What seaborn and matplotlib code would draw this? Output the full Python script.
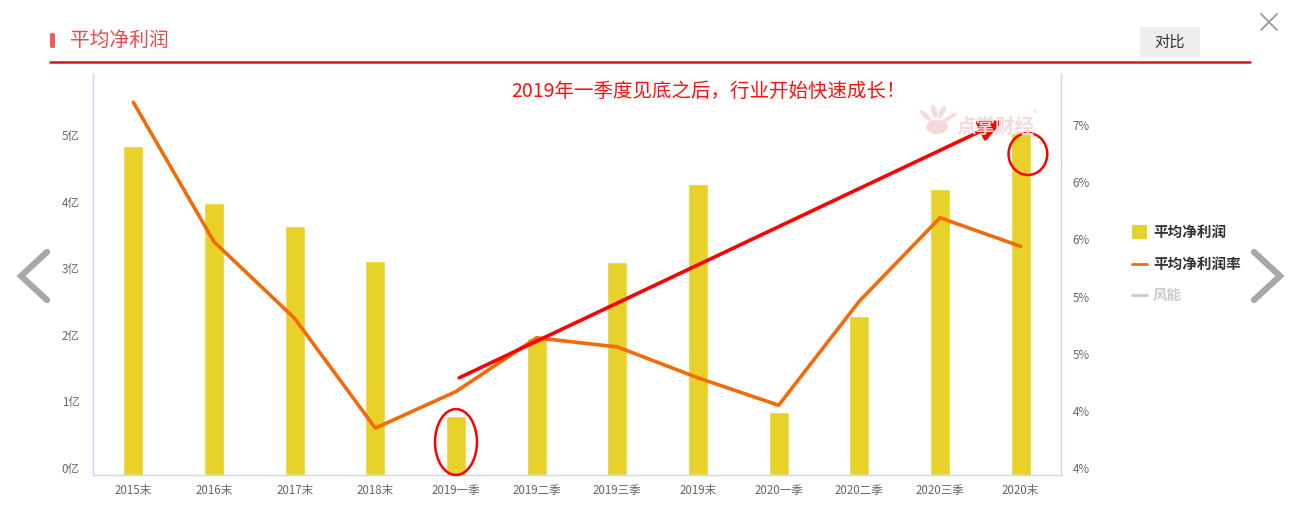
import numpy as np
import pandas as pd
import matplotlib
matplotlib.use("Agg")
import matplotlib.pyplot as plt
import matplotlib.transforms as mtransforms
from matplotlib.patches import Ellipse, FancyBboxPatch, Rectangle, FancyArrowPatch
from matplotlib.lines import Line2D
import seaborn as sns

# ---------------- data ----------------
categories = ["2015末", "2016末", "2017末", "2018末", "2019一季", "2019二季",
              "2019三季", "2019末", "2020一季", "2020二季", "2020三季", "2020末"]
profit_yi = [4.94, 4.08, 3.74, 3.21, 0.89, 2.05, 3.20, 4.37, 0.95, 2.39, 4.29, 5.14]
profit_rate = [7.26, 6.04, 5.37, 4.41, 4.73, 5.20, 5.12, 4.85, 4.61, 5.52, 6.25, 6.00]
left_ticks = [0, 1, 2, 3, 4, 5]
left_labels = ["0亿", "1亿", "2亿", "3亿", "4亿", "5亿"]
right_ticks = [4.0, 4.5, 5.0, 5.5, 6.0, 6.5, 7.0]
right_labels = ["4%", "4%", "5%", "5%", "6%", "6%", "7%"]
title = "平均净利润"
annotation = "2019年一季度见底之后，行业开始快速成长！"
legend_items = ["平均净利润", "平均净利润率", "风能"]

df = pd.DataFrame({"cat": categories, "profit": profit_yi,
                   "rate": profit_rate, "pos": np.arange(len(categories))})

# ---------------- style ----------------
sns.set_style("white")
plt.rcParams["font.family"] = ["Noto Sans CJK SC", "DejaVu Sans"]

W, H = 1302, 511
DPI = 100
fig = plt.figure(figsize=(W / DPI, H / DPI), dpi=DPI)
fig.patch.set_facecolor("white")


def fx(x):
    return x / W


def fy(y):
    return 1 - y / H


BAR = "#e8d22a"
LINE = "#f26b0a"
AXC = "#ccd6eb"
TXT = "#666666"
WM = "#f6dada"

# axes region in pixels
L, R, T, B = 93, 1061, 74, 475
ax = fig.add_axes([fx(L), fy(B), fx(R) - fx(L), (B - T) / H])

sns.barplot(data=df, x="cat", y="profit", color=BAR, saturation=1,
            width=0.25, ax=ax, zorder=2)
ax.set_xlim(-0.5, len(categories) - 0.5)
ax.set_ylim(0, (B - T) / 66.6)
ax.set_yticks(left_ticks)
ax.set_yticklabels(left_labels)
ax.set_xlabel("")
ax.set_ylabel("")

ax2 = ax.twinx()
sns.lineplot(data=df, x="pos", y="rate", color=LINE, linewidth=2.6,
             sort=False, ax=ax2, zorder=3)
ax2.set_ylim(4.0, 4.0 + (B - T) / 114.33)
ax2.set_yticks(right_ticks)
ax2.set_yticklabels(right_labels)
ax2.set_xlabel("")
ax2.set_ylabel("")
ax2.set_xlim(-0.5, len(categories) - 0.5)

for a in (ax, ax2):
    for s in a.spines.values():
        s.set_visible(False)
    a.tick_params(length=0, colors=TXT, labelsize=8.3)
    a.grid(False)

ax.spines["left"].set_visible(True)
ax.spines["bottom"].set_visible(True)
ax2.spines["right"].set_visible(True)
for s in (ax.spines["left"], ax.spines["bottom"], ax2.spines["right"]):
    s.set_color(AXC)
    s.set_linewidth(1.0)

ax.tick_params(axis="y", pad=9.5)
ax.tick_params(axis="x", pad=6.5)
ax2.tick_params(axis="y", pad=8.5)

# shift y labels up a bit (as in reference)
off = mtransforms.ScaledTranslation(0, 7 / DPI, fig.dpi_scale_trans)
for lab in ax.get_yticklabels() + ax2.get_yticklabels():
    lab.set_transform(lab.get_transform() + off)

# ---------------- watermark (drawn below the arrow) ----------------
for (cx, cy, w, h, ang) in [(926, 116, 6, 12, 20), (934, 111, 6, 13, 5),
                            (942, 112, 6, 13, -10), (949, 118, 6, 12, -30),
                            (937, 127, 22, 14, 0)]:
    fig.patches.append(Ellipse((fx(cx), fy(cy)), w / W, h / H, angle=ang,
                               transform=fig.transFigure, facecolor=WM,
                               edgecolor="none", zorder=0.5))
fig.text(fx(956), fy(127), "点掌财经", color=WM, fontsize=14,
         fontweight="bold", ha="left", va="center", zorder=0.5)
fig.text(fx(1033), fy(114), "®", color=WM, fontsize=6.5,
         ha="left", va="center", zorder=0.5)

# ---------------- annotations ----------------
arrow = FancyArrowPatch((4.04, 4.85), (10.78, 7.10), transform=ax2.transData,
                        arrowstyle="-|>,head_length=14,head_width=6.5",
                        color="#ff0000", linewidth=2.6, zorder=6,
                        shrinkA=0, shrinkB=0, clip_on=False)
ax2.add_patch(arrow)

for (cx, cy, w, h) in [(4.0, 0.495, 0.52, 0.99), (11.09, 4.82, 0.48, 0.63)]:
    e = Ellipse((cx, cy), w, h, transform=ax.transData, fill=False,
                edgecolor="#ff0000", linewidth=1.8, zorder=7, clip_on=False)
    ax2.add_patch(e)

fig.text(fx(708), fy(91), annotation, color="#ff1010", fontsize=14,
         ha="center", va="center")

# ---------------- header ----------------
fig.patches.append(FancyBboxPatch((fx(50), fy(48)), fx(5) - fx(0), (48 - 33) / H,
                                  boxstyle="round,pad=0,rounding_size=0.002",
                                  transform=fig.transFigure, facecolor="#f25a5a",
                                  edgecolor="none"))
fig.text(fx(70), fy(40), title, color="#e84a4a", fontsize=14.2,
         ha="left", va="center")
fig.lines.append(Line2D([fx(50), fx(1250)], [fy(62), fy(62)],
                        transform=fig.transFigure, color="#d9141e", linewidth=1.8))

fig.patches.append(Rectangle((fx(1140), fy(57)), fx(60), 30 / H,
                             transform=fig.transFigure, facecolor="#eeeeee",
                             edgecolor="none"))
fig.text(fx(1170), fy(42), "对比", color="#333333", fontsize=11,
         ha="center", va="center")

# close button
for xs, ys in [((1261, 1277), (14, 30)), ((1277, 1261), (14, 30))]:
    fig.lines.append(Line2D([fx(xs[0]), fx(xs[1])], [fy(ys[0]), fy(ys[1])],
                            transform=fig.transFigure, color="#999999",
                            linewidth=1.3))

# navigation chevrons
for pts in [((47, 252), (21, 276), (47, 300)), ((1254, 252), (1280, 276), (1254, 300))]:
    fig.lines.append(Line2D([fx(p[0]) for p in pts], [fy(p[1]) for p in pts],
                            transform=fig.transFigure, color="#a8a8a8",
                            linewidth=4.5, solid_joinstyle="miter"))

# ---------------- legend ----------------
fig.patches.append(Rectangle((fx(1132), fy(239)), fx(15), 14 / H,
                             transform=fig.transFigure, facecolor=BAR,
                             edgecolor="none"))
fig.lines.append(Line2D([fx(1132), fx(1147)], [fy(264), fy(264)],
                        transform=fig.transFigure, color=LINE, linewidth=2))
fig.lines.append(Line2D([fx(1132), fx(1147)], [fy(295), fy(295)],
                        transform=fig.transFigure, color="#cccccc", linewidth=2))
leg_y = [232, 264, 295]
leg_c = ["#333333", "#333333", "#cccccc"]
for t, yy, c in zip(legend_items, leg_y, leg_c):
    fig.text(fx(1153), fy(yy), t, color=c, fontsize=10.5, fontweight="bold",
             ha="left", va="center")

fig.savefig("out.png", dpi=DPI, facecolor="white")
